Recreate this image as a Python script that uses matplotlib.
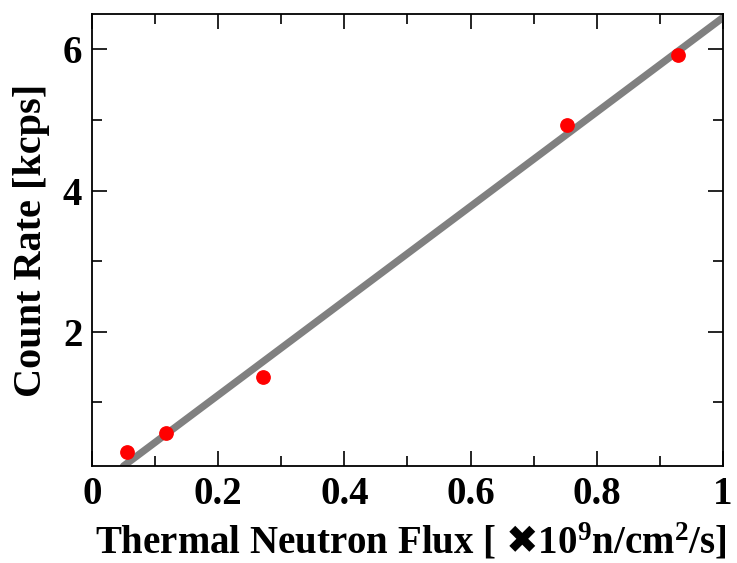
import matplotlib
matplotlib.use("Agg")
import matplotlib.pyplot as plt
from matplotlib.ticker import MultipleLocator

plt.rcParams['font.family'] = ['Liberation Serif', 'DejaVu Sans']
plt.rcParams['font.weight'] = 'bold'
plt.rcParams['mathtext.fontset'] = 'custom'
plt.rcParams['mathtext.rm'] = 'Liberation Serif:bold'
plt.rcParams['mathtext.it'] = 'Liberation Serif:bold'
plt.rcParams['mathtext.bf'] = 'Liberation Serif:bold'
plt.rcParams['mathtext.sf'] = 'DejaVu Sans:bold'

# measured points
flux = [0.055, 0.117, 0.271, 0.752, 0.928]
rate = [0.30, 0.57, 1.36, 4.93, 5.92]
flux_err = [0.006, 0.006, 0.006, 0.006, 0.008]

# linear fit endpoints
fit_x = [0.05, 1.0]
fit_y = [0.10, 6.45]

fig = plt.figure(figsize=(7.37, 5.63), dpi=100)
ax = fig.add_axes([0.1248, 0.1723, 0.8562, 0.8028])

ax.plot(fit_x, fit_y, color='#808080', lw=5.2, solid_capstyle='round', zorder=2)
ax.errorbar(flux, rate, xerr=flux_err, fmt='none', ecolor='blue', elinewidth=1.2,
            capsize=2, zorder=3)
ax.plot(flux, rate, 'o', color='red', ms=9.6, zorder=4)

ax.set_xlim(0, 1)
ax.set_ylim(0.1, 6.5)
ax.xaxis.set_minor_locator(MultipleLocator(0.1))
ax.yaxis.set_minor_locator(MultipleLocator(1))
ax.set_xticks([0, 0.2, 0.4, 0.6, 0.8, 1])
ax.set_xticklabels(['0', '0.2', '0.4', '0.6', '0.8', '1'])
ax.set_yticks([2, 4, 6])

ax.tick_params(which='both', direction='in', top=True, right=True, width=1.2,
               labelsize=28, pad=7)
ax.tick_params(which='major', length=11)
ax.tick_params(which='minor', length=7)
for s in ax.spines.values():
    s.set_linewidth(1.3)

xlab = ax.set_xlabel('Thermal Neutron Flux [ $\\mathsf{\u2716}$' + r'10$^9$n/cm$^2$/s]',
                     fontsize=28, fontweight='bold', labelpad=7)
xlab.set_x(0.505)
ax.set_ylabel('Count Rate [kcps]', fontsize=29, fontweight='bold', labelpad=9)

fig.savefig('out.png', dpi=100)
